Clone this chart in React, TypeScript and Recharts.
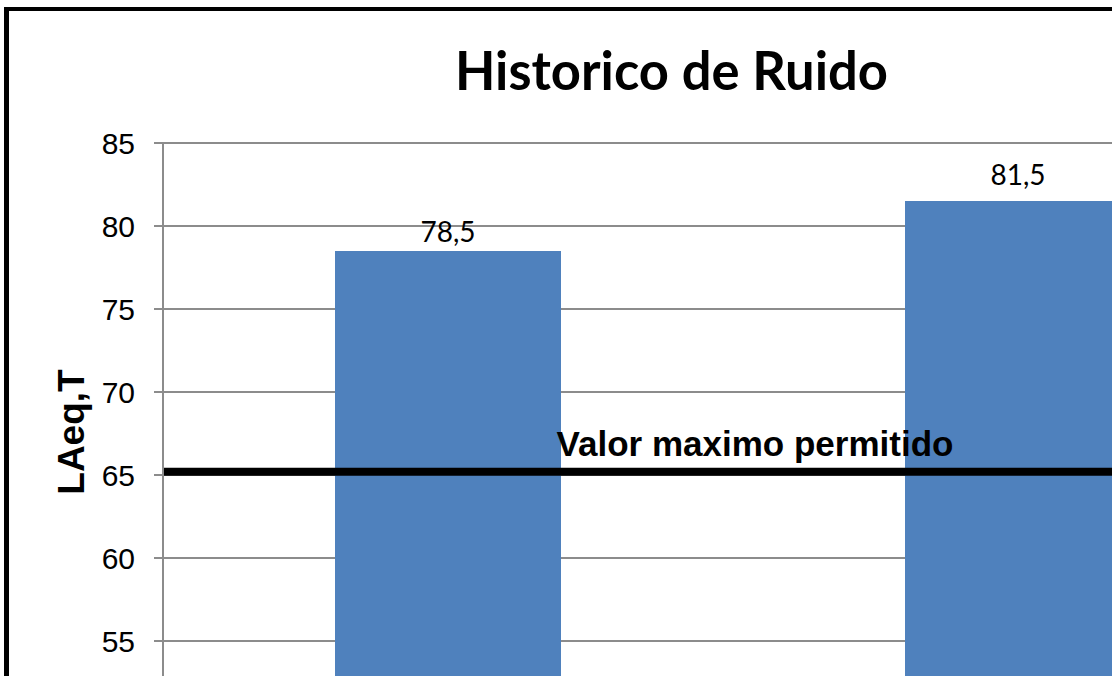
import {
  Bar,
  BarChart,
  CartesianGrid,
  LabelList,
  ReferenceLine,
  XAxis,
  YAxis,
} from 'recharts';

const categories = ['2013', '2014'];
const laeqValues = [78.5, 81.5];
const yTicks = [55, 60, 65, 70, 75, 80, 85];
const limitValue = 65.2;
const limitLabel = 'Valor maximo permitido';
const titleText = 'Historico de Ruido';
const yAxisTitle = 'LAeq,T';

const BAR_COLOR = '#4F81BD';
const GRID_COLOR = '#8c8c8c';
const ARIAL = '"Liberation Sans", Arial, sans-serif';
const CALIBRI_LIKE = 'Lato, "Open Sans", sans-serif';

// per-bar label lift above the bar top (the labels sit unevenly in the original)
const labelLift = [9, 16];

const data = categories.map((name, i) => ({ name, laeq: laeqValues[i] }));

function formatComma(v: number | string) {
  return String(v).replace('.', ',');
}

function BarValueLabel(props: any) {
  const { x, y, width, value, index } = props;
  return (
    <text
      x={Number(x) + Number(width) / 2}
      y={Number(y) - labelLift[index ?? 0]}
      textAnchor="middle"
      fontFamily={CALIBRI_LIKE}
      fontSize={28}
      fill="#000"
    >
      {formatComma(value)}
    </text>
  );
}

function LimitLabel(props: any) {
  const { viewBox } = props;
  return (
    <text
      x={viewBox.x + 592}
      y={viewBox.y - 16}
      textAnchor="middle"
      fontFamily={ARIAL}
      fontWeight="bold"
      fontSize={35}
      fill="#000"
    >
      {limitLabel}
    </text>
  );
}

function YTitle() {
  return (
    <text
      x={84}
      y={432}
      transform="rotate(-90, 84, 432)"
      textAnchor="middle"
      fontFamily={ARIAL}
      fontWeight="bold"
      fontSize={37}
      fill="#000"
    >
      {yAxisTitle}
    </text>
  );
}

export default function App() {
  return (
    <div
      style={{
        position: 'fixed',
        left: 0,
        top: 0,
        width: 1112,
        height: 676,
        overflow: 'hidden',
        background: '#fff',
      }}
    >
      <div
        style={{
          position: 'absolute',
          left: 4,
          top: 7,
          width: 1320,
          height: 900,
          borderLeft: '5px solid #000',
          borderTop: '4px solid #000',
          boxSizing: 'border-box',
        }}
      />
      <div style={{ position: 'absolute', left: 0, top: 0 }}>
        <BarChart
          width={1303}
          height={774}
          data={data}
          margin={{ top: 143, right: 0, bottom: 0, left: 0 }}
        >
          <CartesianGrid vertical={false} stroke={GRID_COLOR} strokeWidth={2} />
          {/* category labels sit below the visible crop */}
          <XAxis
            dataKey="name"
            height={50}
            tickLine={false}
            tick={false}
            axisLine={{ stroke: GRID_COLOR, strokeWidth: 2 }}
          />
          <YAxis
            width={163}
            domain={[50, 85]}
            ticks={yTicks}
            interval={0}
            tickSize={9}
            tickMargin={19}
            axisLine={{ stroke: GRID_COLOR, strokeWidth: 2 }}
            tickLine={{ stroke: GRID_COLOR, strokeWidth: 2 }}
            tick={{ fill: '#000', fontSize: 30, fontFamily: ARIAL }}
          />
          <Bar dataKey="laeq" fill={BAR_COLOR} barSize={226} isAnimationActive={false}>
            <LabelList dataKey="laeq" content={<BarValueLabel />} />
          </Bar>
          <ReferenceLine
            y={limitValue}
            stroke="#000"
            strokeWidth={8}
            ifOverflow="extendDomain"
            label={<LimitLabel />}
          />
        </BarChart>
      </div>
      <svg
        width={1112}
        height={676}
        style={{ position: 'absolute', left: 0, top: 0, pointerEvents: 'none' }}
      >
        <text
          x={671.5}
          y={90}
          textAnchor="middle"
          fontFamily={CALIBRI_LIKE}
          fontWeight="bold"
          fontSize={54}
          textLength={433}
          lengthAdjust="spacingAndGlyphs"
          fill="#000"
        >
          {titleText}
        </text>
        <YTitle />
      </svg>
    </div>
  );
}
